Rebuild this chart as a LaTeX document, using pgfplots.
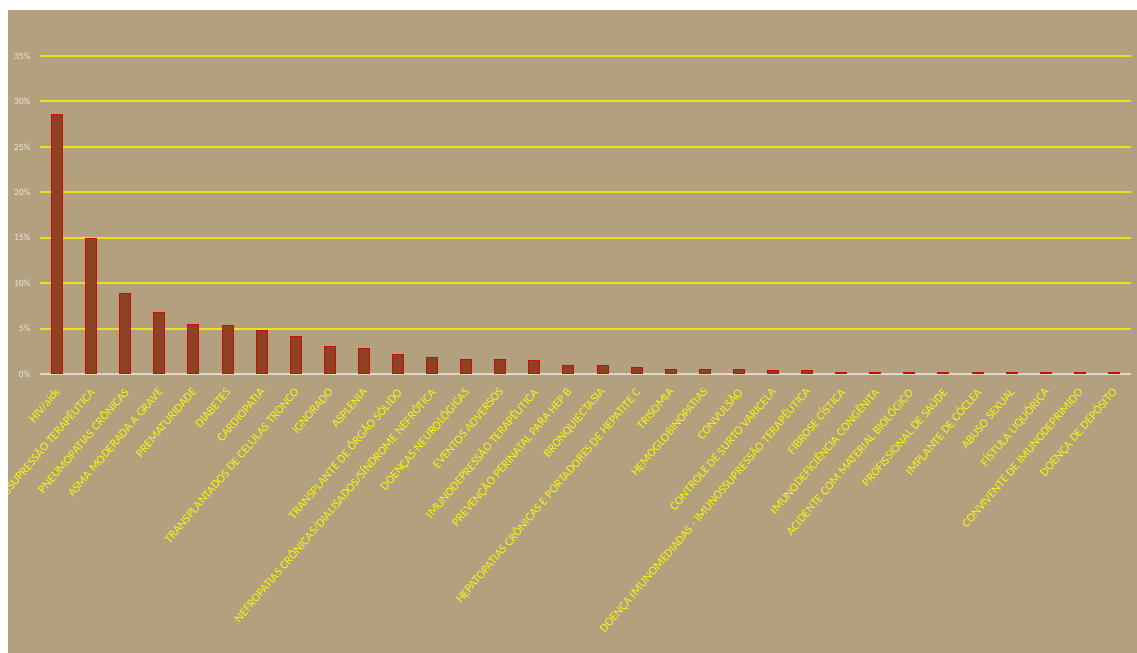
\documentclass[border=0pt]{standalone}
\usepackage{pgfplots}
\pgfplotsset{compat=1.18}
\usepackage{fontspec}
\setmainfont{Carlito}

\definecolor{panel}{RGB}{179,160,126}
\definecolor{gridyellow}{RGB}{236,226,24}
\definecolor{labelyellow}{RGB}{250,245,10}
\definecolor{barfill}{RGB}{142,66,34}
\definecolor{baredge}{RGB}{205,10,10}
\definecolor{ticklight}{RGB}{236,230,218}
\definecolor{axisgray}{RGB}{222,216,206}

\begin{document}
\begin{tikzpicture}
\path[use as bounding box] (0,0) rectangle (1137bp,653bp);
\fill[white] (0,0) rectangle (1137bp,653bp);
\fill[panel] (8bp,0) rectangle (1137bp,643bp);
\begin{scope}
\clip (8bp,0) rectangle (1137bp,643bp);
\begin{axis}[
  at={(40bp,279bp)}, anchor=south west,
  scale only axis, width=1091bp, height=318bp,
  xmin=-0.5, xmax=31.5, ymin=0, ymax=35,
  axis line style={draw=none},
  ymajorgrids, grid style={gridyellow, line width=2bp},
  major tick length=0pt,
  ytick={0,5,10,15,20,25,30,35},
  /pgf/number format/assume math mode=true,
  yticklabel={\pgfmathprintnumber{\tick}\%},
  yticklabel style={font=\fontsize{9.5}{11}\selectfont, text=ticklight, xshift=-6bp},
  xtick={0,...,31},
  xticklabels={
    {HIV/aids},
    {IMUNOSSUPRESSÃO TERAPÊUTICA},
    {PNEUMOPATIAS CRÔNICAS},
    {ASMA MODERADA A GRAVE},
    {PREMATURIDADE},
    {DIABETES},
    {CARDIOPATIA},
    {TRANSPLANTADOS DE CELULAS TRONCO},
    {IGNORADO},
    {ASPLENIA},
    {TRANSPLANTE DE ÓRGÃO SÓLIDO},
    {NEFROPATIAS CRÔNICAS/DIALISADOS/SÍNDROME NEFRÓTICA},
    {DOENÇAS NEUROLÓGICAS},
    {EVENTOS ADVERSOS},
    {IMUNODEPRESSÃO TERAPÊUTICA},
    {PREVENÇÃO PERINATAL PARA HEP B},
    {BRONQUIECTASIA},
    {HEPATOPATIAS CRÔNICAS E PORTADORES DE HEPATITE C},
    {TRISOMIA},
    {HEMOGLOBINOPATIAS},
    {CONVULSÃO},
    {CONTROLE DE SURTO VARICELA},
    {DOENÇA IMUNOMEDIADAS - IMUNOSSUPRESSÃO TERAPÊUTICA},
    {FIBROSE CÍSTICA},
    {IMUNODEFICIÊNCIA CONGÊNITA},
    {ACIDENTE COM MATERIAL BIOLÓGICO},
    {PROFISSIONAL DE SAÚDE},
    {IMPLANTE DE CÓCLEA},
    {ABUSO SEXUAL},
    {FÍSTULA LIQUÓRICA},
    {CONVIVENTE DE IMUNODEPRIMIDO},
    {DOENÇA DE DEPÓSITO}},
  xticklabel style={font=\fontsize{12.2}{14}\selectfont, text=labelyellow,
    rotate=49.5, anchor=east, inner sep=1bp, xshift=-10.3bp, yshift=-10.9bp},
  clip=false,
]
% baseline of the bars
\draw[axisgray, line width=1.8bp] (axis cs:-0.5,0) -- (axis cs:31.5,0);
\addplot[ybar, bar width=11bp, fill=barfill, draw=baredge, line width=1bp]
  coordinates {
    (0,28.6) (1,14.95) (2,8.9) (3,6.75) (4,5.5) (5,5.3) (6,4.8) (7,4.1)
    (8,3.0) (9,2.85) (10,2.15) (11,1.8) (12,1.6) (13,1.6) (14,1.45) (15,0.9)
    (16,0.9) (17,0.7) (18,0.55) (19,0.55) (20,0.55) (21,0.38) (22,0.38)
    (23,0.15) (24,0.15) (25,0.15) (26,0.15) (27,0.15) (28,0.15) (29,0.15)
    (30,0.15) (31,0.15)
  };
\end{axis}
\end{scope}
\end{tikzpicture}
\end{document}
